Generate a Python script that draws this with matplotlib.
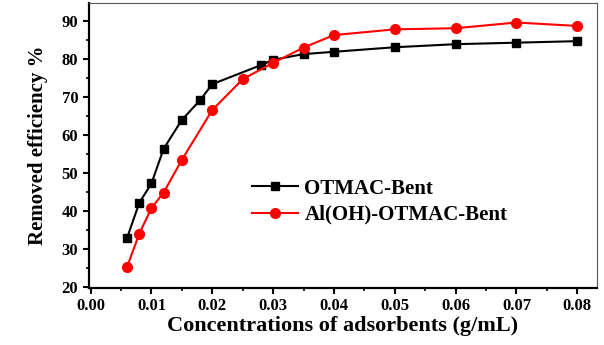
import matplotlib.pyplot as plt
from matplotlib.ticker import MultipleLocator

plt.rc('font', family=['Liberation Serif', 'DejaVu Serif'], weight='bold')
plt.rc('axes', labelweight='bold')

# Data
conc_otmac = [0.006, 0.008, 0.010, 0.012, 0.015, 0.018, 0.020, 0.028, 0.030,
              0.035, 0.040, 0.050, 0.060, 0.070, 0.080]
eff_otmac = [33.0, 42.2, 47.3, 56.4, 64.0, 69.2, 73.4, 78.4, 79.8,
             81.3, 81.9, 83.1, 83.9, 84.3, 84.7]

conc_aloh = [0.006, 0.008, 0.010, 0.012, 0.015, 0.020, 0.025, 0.030,
             0.035, 0.040, 0.050, 0.060, 0.070, 0.080]
eff_aloh = [25.4, 34.1, 40.8, 44.9, 53.5, 66.6, 74.7, 79.0,
            83.0, 86.3, 87.8, 88.1, 89.6, 88.7]

fig = plt.figure(figsize=(6.04, 3.45), dpi=100)
ax = fig.add_axes([0.147, 0.165, 0.841, 0.826])

ax.plot(conc_otmac, eff_otmac, color='black', marker='s', markersize=6,
        linewidth=1.5, label='OTMAC-Bent')
ax.plot(conc_aloh, eff_aloh, color='red', marker='o', markersize=7,
        linewidth=1.5, label='Al(OH)-OTMAC-Bent')

ax.set_xlim(-0.0003, 0.0832)
ax.set_ylim(19.8, 94.7)
ax.xaxis.set_major_locator(MultipleLocator(0.01))
ax.xaxis.set_minor_locator(MultipleLocator(0.005))
ax.yaxis.set_major_locator(MultipleLocator(10))
ax.yaxis.set_minor_locator(MultipleLocator(5))
ax.xaxis.set_major_formatter(plt.FormatStrFormatter('%.2f'))

ax.tick_params(which='major', direction='out', length=4, width=1.5, labelsize=12)
ax.tick_params(which='minor', direction='out', length=2.5, width=1.2)
for side in ['left', 'bottom']:
    ax.spines[side].set_linewidth(1.6)
for side in ['top', 'right']:
    ax.spines[side].set_linewidth(0.8)
    ax.spines[side].set_color('#555555')

ax.set_xlabel('Concentrations of adsorbents (g/mL)', fontsize=16, labelpad=1)
ax.set_ylabel('Removed efficiency %', fontsize=15, labelpad=10)

ax.legend(loc='upper left', bbox_to_anchor=(0.285, 0.45), frameon=False,
          fontsize=15, handlelength=2.2, handletextpad=0.3, labelspacing=0.3)

fig.savefig('out.png', dpi=100)
